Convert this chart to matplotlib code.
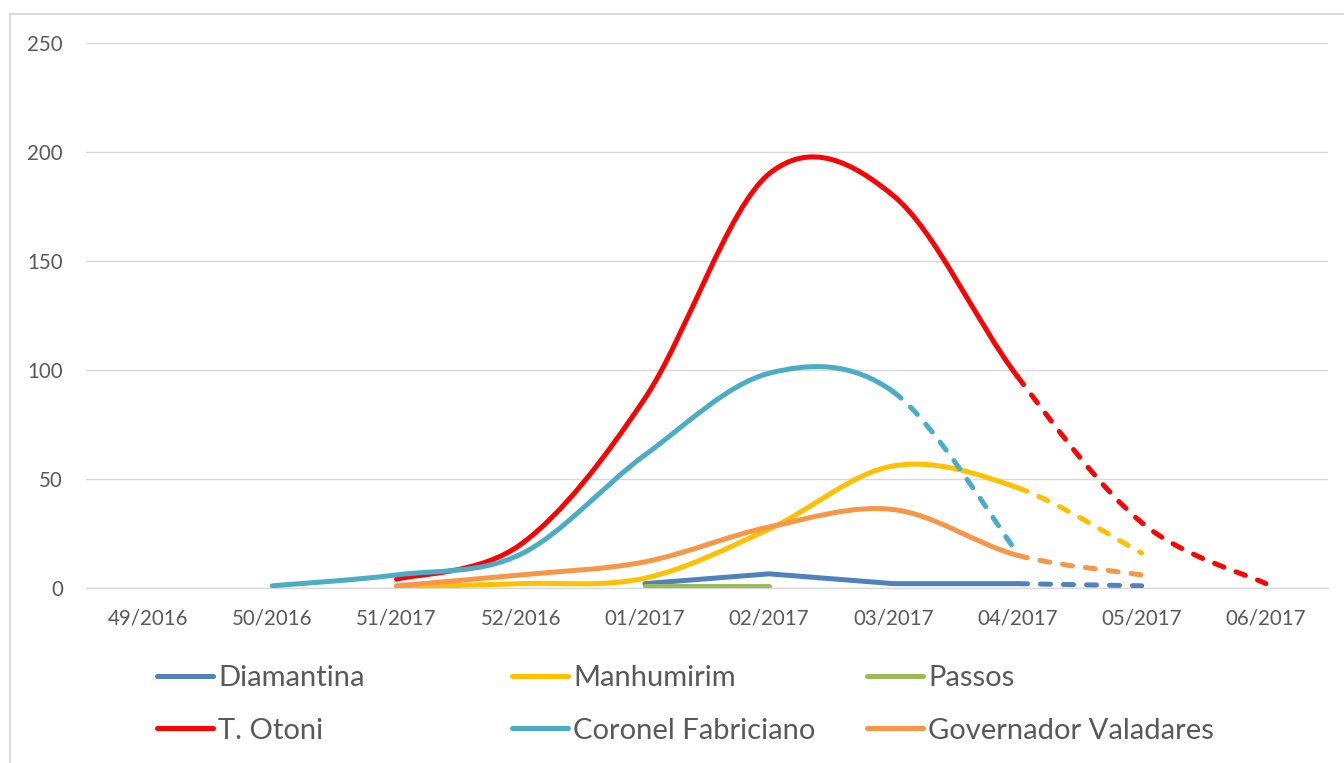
import numpy as np
import matplotlib
matplotlib.use('Agg')
import matplotlib.pyplot as plt
from matplotlib.path import Path
from matplotlib.patches import PathPatch, Rectangle
from matplotlib.lines import Line2D

# ---------------- data ----------------
categories = ['49/2016', '50/2016', '51/2017', '52/2016', '01/2017',
              '02/2017', '03/2017', '04/2017', '05/2017', '06/2017']
nan = np.nan
diamantina = [nan, nan, nan, nan, 2, 6.5, 2, 2, 1, nan]
manhumirim = [nan, nan, 0.5, 2, 4.5, 27, 56, 46, 16, nan]
passos = [nan, nan, nan, nan, 1, 1, nan, nan, nan, nan]
t_otoni = [nan, nan, 4, 20, 87, 190, 180, 97, 30, 2]
coronel = [nan, 1, 6, 15.5, 61, 98.5, 90, 16, nan, nan]
governador = [nan, nan, 1, 6, 12, 28, 36, 15, 6, nan]
yticks = [0, 50, 100, 150, 200, 250]

# name, values, color, smoothed, index of last solid point
series = [
    ('Diamantina', diamantina, '#4F81BD', False, 7),
    ('Manhumirim', manhumirim, '#FFC000', True, 7),
    ('Passos', passos, '#9BBB59', False, 5),
    ('T. Otoni', t_otoni, '#FF0000', True, 7),
    ('Coronel Fabriciano', coronel, '#4BACC6', True, 6),
    ('Governador Valadares', governador, '#F79646', True, 7),
]

plt.rcParams['font.family'] = ['Lato', 'DejaVu Sans']
plt.rcParams['lines.solid_capstyle'] = 'round'
plt.rcParams['lines.dash_capstyle'] = 'round'

W, H = 1344, 763
fig = plt.figure(figsize=(W / 100, H / 100), dpi=100)
ax = fig.add_axes([86 / W, 1 - 588 / H, (1328 - 86) / W, (588 - 43) / H])

LW = 3.6
DASH = (0, (2.0, 2.6))
GRID = '#d9d9d9'
TXT = '#595959'


def bezier_controls(xs, ys):
    n = len(xs)
    segs = []
    for i in range(n - 1):
        a, b = max(i - 1, 0), min(i + 2, n - 1)
        p0 = np.array([xs[a], ys[a]])
        p1 = np.array([xs[i], ys[i]])
        p2 = np.array([xs[i + 1], ys[i + 1]])
        p3 = np.array([xs[b], ys[b]])
        c1 = p1 + (p2 - p0) / 6.0
        c2 = p2 - (p3 - p1) / 6.0
        segs.append((p1, c1, c2, p2))
    return segs


def path_from(segs):
    verts = [segs[0][0]]
    codes = [Path.MOVETO]
    for p1, c1, c2, p2 in segs:
        verts += [c1, c2, p2]
        codes += [Path.CURVE4] * 3
    return Path(np.array(verts), codes)


handles = {}
for z, (name, vals, color, smooth, solid_end) in enumerate(series):
    v = np.array(vals, dtype=float)
    idx = np.where(~np.isnan(v))[0]
    xs = idx.astype(float)
    ys = v[idx]
    k = int(np.where(idx == solid_end)[0][0])  # position of last solid point
    if smooth:
        segs = bezier_controls(xs, ys)
        if k > 0:
            ax.add_patch(PathPatch(path_from(segs[:k]), fill=False, edgecolor=color,
                                   lw=LW, capstyle='round', joinstyle='round',
                                   zorder=3 + z))
        if k < len(segs):
            ax.add_patch(PathPatch(path_from(segs[k:]), fill=False, edgecolor=color,
                                   lw=LW, linestyle=DASH, capstyle='round',
                                   joinstyle='round', zorder=3 + z))
    else:
        ax.plot(xs[:k + 1], ys[:k + 1], color=color, lw=LW,
                solid_joinstyle='round', zorder=3 + z)
        if k < len(xs) - 1:
            ax.plot(xs[k:], ys[k:], color=color, lw=LW, linestyle=DASH,
                    zorder=3 + z)
    handles[name] = Line2D([], [], color=color, lw=LW, solid_capstyle='round')

ax.set_xlim(-0.5, len(categories) - 0.5)
ax.set_ylim(0, 250)
ax.set_xticks(range(len(categories)))
ax.set_xticklabels(categories)
ax.set_yticks(yticks)
ax.tick_params(axis='both', length=0, labelsize=14.8, labelcolor=TXT)
ax.tick_params(axis='x', pad=15)
ax.tick_params(axis='y', pad=16.5)
ax.grid(axis='y', color=GRID, lw=1.0)
ax.set_axisbelow(True)
for s in ['top', 'right', 'left']:
    ax.spines[s].set_visible(False)
ax.spines['bottom'].set_color(GRID)
ax.spines['bottom'].set_linewidth(1.0)

# chart border
fig.patches.append(Rectangle((10 / W, -0.1), 1.2, 1.1 - 14 / H, transform=fig.transFigure,
                             fill=False, edgecolor=GRID, lw=1.5))

# legend: three columns, two rows
cols = [['Diamantina', 'T. Otoni'],
        ['Manhumirim', 'Coronel Fabriciano'],
        ['Passos', 'Governador Valadares']]
col_x = [157, 512, 867]
LFS = 21
for cx, names in zip(col_x, cols):
    fig.legend([handles[n] for n in names], names, loc='upper left',
               bbox_to_anchor=(cx / W, 1 - 665 / H), frameon=False,
               fontsize=LFS, labelcolor=TXT, handlelength=1.92,
               handletextpad=0.17, labelspacing=0.91, borderpad=0,
               borderaxespad=0)

fig.savefig('out.png', dpi=100)
